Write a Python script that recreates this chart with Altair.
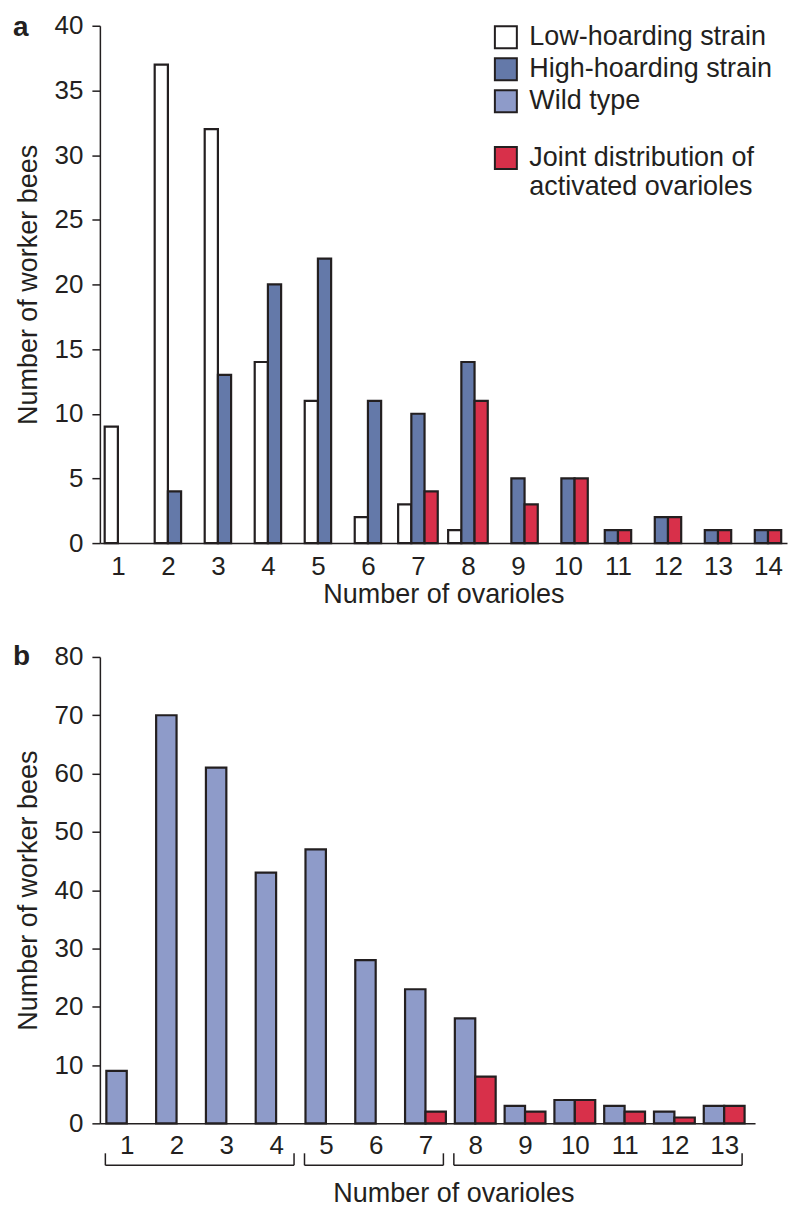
import altair as alt
import pandas as pd

FONT = "Liberation Sans"
INK = "#231f20"
FS = 26
FT = 27

# ---------------- data ----------------
CATS_A = [1, 2, 3, 4, 5, 6, 7, 8, 9, 10, 11, 12, 13, 14]
LOW_A = [9, 37, 32, 14, 11, 2, 3, 1, 0, 0, None, None, None, None]
HIGH_A = [0, 4, 13, 20, 22, 11, 10, 14, 5, 5, 1, 2, 1, 1]
JOINT_A = [None, None, None, None, None, None, 4, 11, 3, 5, 1, 2, 1, 1]

CATS_B = [1, 2, 3, 4, 5, 6, 7, 8, 9, 10, 11, 12, 13]
WILD_B = [9, 70, 61, 43, 47, 28, 23, 18, 3, 4, 3, 2, 3]
JOINT_B = [0, 0, 0, 0, 0, 0, 2, 8, 2, 4, 2, 1, 3]

BRACKET_FROM = [1, 5, 8]
BRACKET_TO = [4, 7, 13]

Y_TICKS_A = [0, 5, 10, 15, 20, 25, 30, 35, 40]
Y_TICKS_B = [0, 10, 20, 30, 40, 50, 60, 70, 80]

SERIES = ["Low-hoarding strain", "High-hoarding strain", "Wild type",
          "Joint distribution of activated ovarioles"]
COLORS = ["#ffffff", "#6479a9", "#8e9bc9", "#d8304a"]
PANEL_LABELS = ["a", "b"]


def long_table(cats, cols):
    rows = []
    for i, c in enumerate(cats):
        for order, (name, vals) in enumerate(cols):
            v = vals[i]
            if v is not None:
                rows.append({"cat": c, "series": name, "order": order, "value": v})
    return pd.DataFrame(rows)


def placed(df, w):
    return (
        alt.Chart(df)
        .transform_joinaggregate(n="count(value)", groupby=["cat"])
        .transform_window(idx="row_number()", groupby=["cat"],
                          sort=[alt.SortField("order", order="ascending")])
        .transform_calculate(
            x0=f"datum.cat + (datum.idx - 1 - datum.n / 2) * {w}",
            x1=f"datum.cat + (datum.idx - datum.n / 2) * {w}",
        )
        .transform_filter("datum.value > 0")
    )


def y_axis(vals):
    return alt.Axis(values=vals, tickSize=8, tickWidth=1.5, tickColor=INK,
                    domainColor=INK, domainWidth=1.5, labelFontSize=FS,
                    labelPadding=9, labelColor=INK, grid=False,
                    title="Number of worker bees", titleFontSize=FT,
                    titleFontWeight="normal", titleColor=INK, titlePadding=12)


def x_axis(vals, lpad, tpad, **kw):
    return alt.Axis(values=vals, ticks=False, tickSize=0, labelFontSize=FS,
                    labelPadding=lpad, labelColor=INK, domainColor=INK,
                    domainWidth=1.5, grid=False, format="d", labelFlush=False,
                    labelOverlap=False, title="Number of ovarioles",
                    titleFontSize=FT, titleFontWeight="normal", titleColor=INK,
                    titlePadding=tpad, **kw)


def legend(x, y, **kw):
    return alt.Legend(title=None, orient="none", legendX=x, legendY=y,
                      symbolType="square", symbolSize=484, symbolStrokeColor=INK,
                      symbolStrokeWidth=2, labelFont=FONT, labelFontSize=FT,
                      labelColor=INK, labelOffset=10, rowPadding=1, labelLimit=0,
                      padding=0, **kw)


def panel_label(text, y):
    return (
        alt.Chart(pd.DataFrame({"t": [text]}))
        .mark_text(font=FONT, fontSize=28, fontWeight="bold", align="left",
                   baseline="alphabetic", color=INK)
        .encode(text="t:N", x=alt.value(-87), y=alt.value(y))
    )


# ---------------- panel a ----------------
W_A, H_A = 688, 518
df_a = long_table(CATS_A, [(SERIES[0], LOW_A), (SERIES[1], HIGH_A), (SERIES[3], JOINT_A)])
pos_a = placed(df_a, 0.264)
x_a = alt.X("x0:Q", scale=alt.Scale(domain=[0.64, 14.38], nice=False, zero=False),
            axis=x_axis(CATS_A, 10, 2))
y_a = alt.Y("value:Q", scale=alt.Scale(domain=[0, 40], nice=False), axis=y_axis(Y_TICKS_A))

strains = (
    pos_a.transform_filter(alt.FieldOneOfPredicate(field="series", oneOf=SERIES[:2]))
    .mark_bar(stroke=INK, strokeWidth=2.2)
    .encode(x=x_a, x2="x1:Q", y=y_a, y2=alt.datum(0),
            fill=alt.Fill("series:N",
                          scale=alt.Scale(domain=SERIES[:3], range=COLORS[:3]),
                          legend=legend(393, -2)))
)
joint_a = (
    pos_a.transform_filter(alt.FieldEqualPredicate(field="series", equal=SERIES[3]))
    .mark_bar(stroke=INK, strokeWidth=2.2)
    .encode(x=x_a, x2="x1:Q", y=y_a, y2=alt.datum(0),
            fill=alt.Fill("series:N",
                          scale=alt.Scale(domain=SERIES[3:], range=COLORS[3:]),
                          legend=legend(393, 119,
                                        labelExpr="['Joint distribution of', 'activated ovarioles']")))
)
panel_a = (
    alt.layer(strains, joint_a, panel_label(PANEL_LABELS[0], 10))
    .resolve_scale(fill="independent")
    .properties(width=W_A, height=H_A)
)

# ---------------- panel b ----------------
W_B, H_B = 656, 467
df_b = long_table(CATS_B, [(SERIES[2], WILD_B), (SERIES[3], JOINT_B)])
pos_b = placed(df_b, 0.41)
x_b = alt.X("x0:Q", scale=alt.Scale(domain=[0.46, 13.62], nice=False, zero=False),
            axis=x_axis(CATS_B, 9, 22, titleX=354))
y_b = alt.Y("value:Q", scale=alt.Scale(domain=[0, 80], nice=False), axis=y_axis(Y_TICKS_B))

bars_b = (
    pos_b.mark_bar(stroke=INK, strokeWidth=2.2)
    .encode(x=x_b, x2="x1:Q", y=y_b, y2=alt.datum(0),
            fill=alt.Fill("series:N",
                          scale=alt.Scale(domain=SERIES[2:], range=COLORS[2:]),
                          legend=None))
)

br = alt.Chart(pd.DataFrame({"start": BRACKET_FROM, "end": BRACKET_TO})).transform_calculate(
    xs="datum.start - 0.43", xe="datum.end + 0.36")
br_h = br.mark_rule(color=INK, strokeWidth=1.5).encode(
    x="xs:Q", x2="xe:Q", y=alt.value(H_B + 42))
br_l = br.mark_rule(color=INK, strokeWidth=1.5).encode(
    x="xs:Q", y=alt.value(H_B + 30), y2=alt.value(H_B + 42))
br_r = br.mark_rule(color=INK, strokeWidth=1.5).encode(
    x="xe:Q", y=alt.value(H_B + 30), y2=alt.value(H_B + 42))

panel_b = (
    alt.layer(bars_b, br_h, br_l, br_r, panel_label(PANEL_LABELS[1], 8))
    .properties(width=W_B, height=H_B)
)

chart = (
    alt.vconcat(panel_a, panel_b, spacing=36)
    .properties(padding={"left": 5, "top": 4, "right": 5, "bottom": 5},
                background="white")
    .configure(font=FONT)
    .configure_view(stroke=None)
)

chart.save("out.html", embed_options={"renderer": "svg", "actions": False})
